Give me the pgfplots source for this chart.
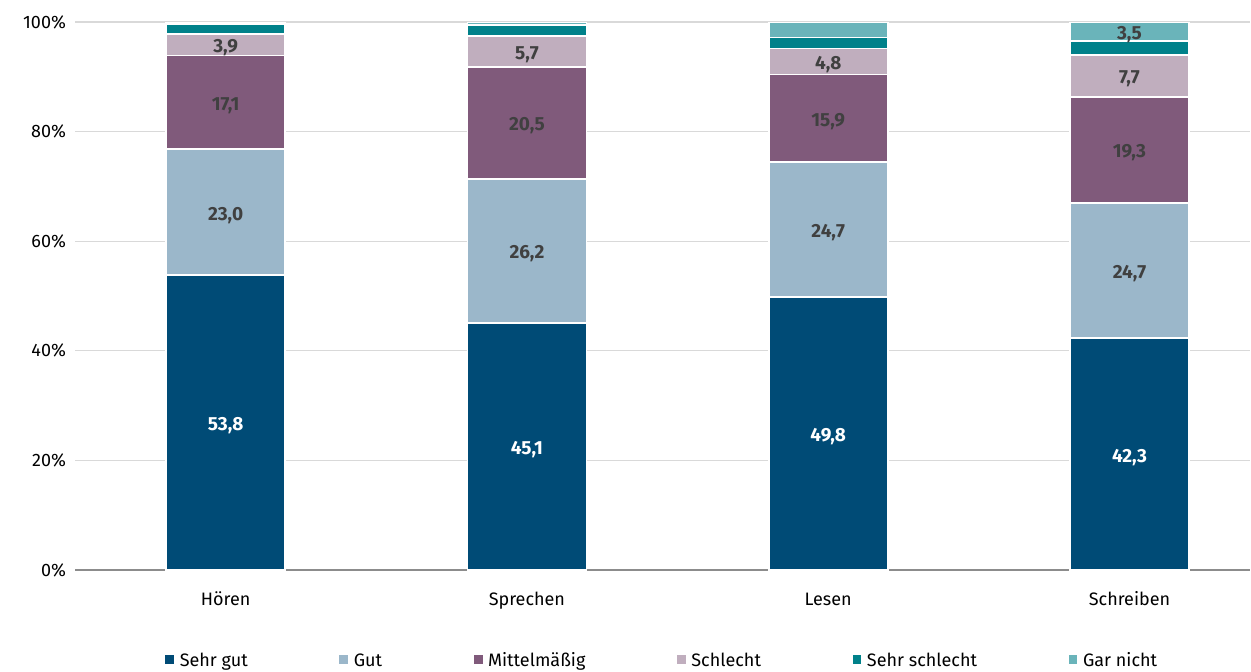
\documentclass[border=0pt]{standalone}
\usepackage{pgfplots}
\pgfplotsset{compat=1.18}
\usepackage{fontspec}
\setmainfont{Fira Sans}

\definecolor{sehrgut}{HTML}{004B76}
\definecolor{gut}{HTML}{9BB7CA}
\definecolor{mittel}{HTML}{805A7B}
\definecolor{schlecht}{HTML}{C0AEBE}
\definecolor{sehrschlecht}{HTML}{00818A}
\definecolor{garnicht}{HTML}{6AB4BA}
\definecolor{lbl}{HTML}{404040}

\pgfplotsset{
  base/.style={
    scale only axis, width=587.5pt, height=274pt,
    xmin=-0.5, xmax=3.4, ymin=0, ymax=100,
    /pgf/number format/assume math mode=true,
    font=\fontsize{9pt}{11pt}\selectfont,
  },
}

\begin{document}
\begin{tikzpicture}
\useasboundingbox (-37.5pt,-50.5pt) rectangle (588pt,285pt);
\begin{axis}[base,
  ybar stacked, bar width=59.5pt,
  xtick={0,1,2,3}, xticklabels={Hören,Sprechen,Lesen,Schreiben},
  ytick={0,20,40,60,80,100},
  yticklabel={\pgfmathprintnumber{\tick}\%},
  ymajorgrids, grid style={draw=black!15, line width=0.6pt},
  axis x line*=bottom, axis y line*=left,
  y axis line style={draw=none},
  x axis line style={draw=black!45, line width=0.8pt, -},
  major tick length=0pt,
  yticklabel style={xshift=-1pt},
  xticklabel style={yshift=-6pt, text depth=0.25ex, text height=1.6ex},
  legend style={at={(0.5,-0.164)}, anchor=center, draw=none, fill=none,
    legend columns=6, font=\fontsize{9pt}{11pt}\selectfont,
    nodes={text depth=0.25ex, text height=1.6ex}},
  /tikz/every even column/.append style={column sep=43pt},
  legend image code/.code={\fill[#1] (0pt,-2.6pt) rectangle (5.2pt,2.6pt);},
  legend cell align=left,
]
\addplot[fill=sehrgut, draw=white, line width=0.8pt] coordinates {(0,53.8) (1,45.1) (2,49.8) (3,42.3)};
\addplot[fill=gut, draw=white, line width=0.8pt] coordinates {(0,23.0) (1,26.2) (2,24.7) (3,24.7)};
\addplot[fill=mittel, draw=white, line width=0.8pt] coordinates {(0,17.1) (1,20.5) (2,15.9) (3,19.3)};
\addplot[fill=schlecht, draw=white, line width=0.8pt] coordinates {(0,3.9) (1,5.7) (2,4.8) (3,7.7)};
\addplot[fill=sehrschlecht, draw=white, line width=0.8pt] coordinates {(0,1.8) (1,1.9) (2,2.0) (3,2.5)};
\addplot[fill=garnicht, draw=white, line width=0.8pt] coordinates {(0,0.4) (1,0.6) (2,2.8) (3,3.5)};
\legend{Sehr gut,Gut,Mittelmäßig,Schlecht,Sehr schlecht,Gar nicht}
\end{axis}
\begin{axis}[base, axis lines=none, ticks=none,
  point meta=explicit symbolic,
  nodes near coords, nodes near coords align={center},
  every node near coord/.append style={font=\fontsize{9.5pt}{11pt}\selectfont\bfseries, inner sep=0pt, yshift=-1.5pt},
]
\addplot[only marks, mark=none, nodes near coords style={text=white}] coordinates {
  (0,26.9) [53,8] (1,22.55) [45,1] (2,24.9) [49,8] (3,21.15) [42,3]
};
\addplot[only marks, mark=none, nodes near coords style={text=lbl}] coordinates {
  (0,65.3) [23,0] (1,58.2) [26,2] (2,62.15) [24,7] (3,54.65) [24,7]
  (0,85.35) [17,1] (1,81.55) [20,5] (2,82.45) [15,9] (3,76.65) [19,3]
  (0,95.85) [3,9] (1,94.65) [5,7] (2,92.8) [4,8] (3,90.15) [7,7]
  (3,98.25) [3,5]
};
\end{axis}
\end{tikzpicture}
\end{document}
